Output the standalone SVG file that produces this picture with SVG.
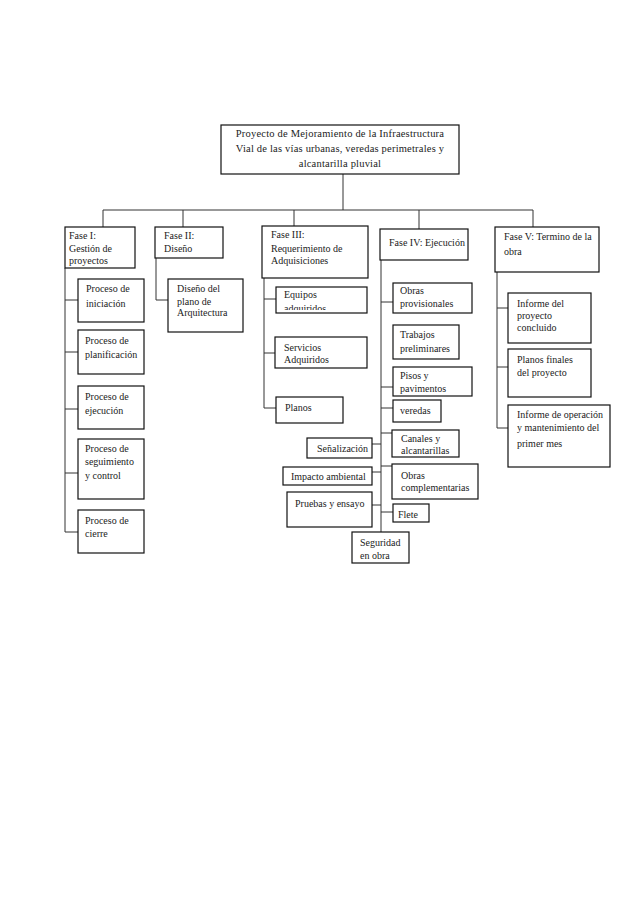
<svg xmlns="http://www.w3.org/2000/svg" width="638" height="903" viewBox="0 0 638 903">
<style>
.b{fill:#fff;stroke:#111;stroke-width:1.2}
.c{fill:none;stroke:#333;stroke-width:1}
text{font-family:"Liberation Serif","Times New Roman",serif;font-size:10px;fill:#222}
.t{font-size:10.5px;letter-spacing:0.2px}
</style>
<defs>
<clipPath id="clipEq"><rect x="276" y="287" width="91" height="23"/></clipPath>
</defs>
<rect width="638" height="903" fill="#fff"/>
<g id="connectors" class="c">
<path d="M343 174V210M103 210H533M103 210V227M183 210V227M294 210V226M419 210V229M533 210V227"/>
<path d="M65 268V532M65 300H78M65 352H78M65 409H78M65 473H78M65 532H78"/>
<path d="M156 258V300H168"/>
<path d="M264 278V408M264 299H276M264 353H275M264 408H276"/>
<path d="M381 260V532M381 302H393M381 387H393M381 408H393M381 433H392M381 466H392M381 512H393M372 444H381M372 472H381M372 505H381"/>
<path d="M497 272V428M497 308H508M497 367H508M497 428H508"/>
</g>
<g id="root"><rect class="b" x="221" y="125" width="238" height="49"/>
<text class="t" x="340" y="137" text-anchor="middle">Proyecto de Mejoramiento de la Infraestructura</text>
<text class="t" x="340" y="152" text-anchor="middle">Vial de las vías urbanas, veredas perimetrales y</text>
<text class="t" x="340" y="167" text-anchor="middle">alcantarilla pluvial</text></g>
<g id="fase1"><rect class="b" x="65" y="227" width="70" height="41"/>
<text x="69" y="239">Fase I:</text><text x="69" y="252">Gestión de</text><text x="69" y="264">proyectos</text></g>
<g id="fase2"><rect class="b" x="155" y="227" width="68" height="31"/>
<text x="164" y="239">Fase II:</text><text x="164" y="252">Diseño</text></g>
<g id="fase3"><rect class="b" x="262" y="226" width="106" height="52"/>
<text x="271" y="238">Fase III:</text><text x="271" y="251.5">Requerimiento de</text><text x="271" y="264">Adquisiciones</text></g>
<g id="fase4"><rect class="b" x="380" y="229" width="88" height="31"/>
<text x="389" y="246">Fase IV: Ejecución</text></g>
<g id="fase5"><rect class="b" x="495" y="227" width="104" height="45"/>
<text x="504" y="240">Fase V: Termino de la</text><text x="504" y="255">obra</text></g>
<g id="p-iniciacion"><rect class="b" x="78" y="279" width="66" height="43"/>
<text x="86" y="292">Proceso de</text><text x="86" y="307">iniciación</text></g>
<g id="p-planificacion"><rect class="b" x="78" y="330" width="66" height="44"/>
<text x="85" y="344">Proceso de</text><text x="85" y="357.5">planificación</text></g>
<g id="p-ejecucion"><rect class="b" x="78" y="386" width="66" height="43"/>
<text x="85" y="399.5">Proceso de</text><text x="85" y="413.5">ejecución</text></g>
<g id="p-seguimiento"><rect class="b" x="78" y="439" width="66" height="60"/>
<text x="85" y="451.5">Proceso de</text><text x="85" y="465">seguimiento</text><text x="85" y="478.5">y control</text></g>
<g id="p-cierre"><rect class="b" x="78" y="510" width="66" height="43"/>
<text x="85" y="523.5">Proceso de</text><text x="85" y="537">cierre</text></g>
<g id="diseno-plano"><rect class="b" x="168" y="279" width="75" height="53"/>
<text x="177" y="291.5">Diseño del</text><text x="177" y="304.5">plano de</text><text x="177" y="315.5">Arquitectura</text></g>
<g id="equipos"><rect class="b" x="276" y="287" width="91" height="26"/>
<text x="284" y="297.5">Equipos</text><text x="284" y="312" clip-path="url(#clipEq)">adquiridos</text></g>
<g id="servicios"><rect class="b" x="275" y="337" width="92" height="31"/>
<text x="284" y="350.5">Servicios</text><text x="284" y="362.5">Adquiridos</text></g>
<g id="planos"><rect class="b" x="276" y="397" width="67" height="26"/>
<text x="285" y="410.5">Planos</text></g>
<g id="obras-prov"><rect class="b" x="393" y="283" width="79" height="30"/>
<text x="400" y="294">Obras</text><text x="400" y="306.5">provisionales</text></g>
<g id="trabajos"><rect class="b" x="393" y="325" width="66" height="34"/>
<text x="400" y="337.5">Trabajos</text><text x="400" y="351.5">preliminares</text></g>
<g id="pisos"><rect class="b" x="393" y="367" width="79" height="29"/>
<text x="400" y="378.5">Pisos y</text><text x="400" y="391.5">pavimentos</text></g>
<g id="veredas"><rect class="b" x="393" y="400" width="48" height="22"/>
<text x="400" y="413.5">veredas</text></g>
<g id="canales"><rect class="b" x="392" y="430" width="67" height="27"/>
<text x="401" y="441.5">Canales y</text><text x="401" y="454">alcantarillas</text></g>
<g id="obras-comp"><rect class="b" x="392" y="464" width="86" height="35"/>
<text x="401" y="478.5">Obras</text><text x="401" y="490.5">complementarias</text></g>
<g id="flete"><rect class="b" x="393" y="504" width="36" height="18"/>
<text x="398" y="517.5">Flete</text></g>
<g id="senalizacion"><rect class="b" x="307" y="438" width="65" height="20"/>
<text x="317" y="451.5">Señalización</text></g>
<g id="impacto"><rect class="b" x="283" y="467" width="89" height="18"/>
<text x="291" y="479.5">Impacto ambiental</text></g>
<g id="pruebas"><rect class="b" x="287" y="492" width="85" height="35"/>
<text x="295" y="506.5">Pruebas y ensayo</text></g>
<g id="seguridad"><rect class="b" x="352" y="532" width="57" height="31"/>
<text x="360" y="545.5">Seguridad</text><text x="360" y="558.5">en obra</text></g>
<g id="informe-concluido"><rect class="b" x="508" y="293" width="83" height="50"/>
<text x="517" y="306.5">Informe del</text><text x="517" y="318.5">proyecto</text><text x="517" y="330.5">concluido</text></g>
<g id="planos-finales"><rect class="b" x="508" y="349" width="83" height="48"/>
<text x="517" y="362.5">Planos finales</text><text x="517" y="375.5">del proyecto</text></g>
<g id="informe-operacion"><rect class="b" x="508" y="405" width="102" height="62"/>
<text x="517" y="417.5">Informe de operación</text><text x="517" y="430.5">y mantenimiento del</text><text x="517" y="446.5">primer mes</text></g>
</svg>
